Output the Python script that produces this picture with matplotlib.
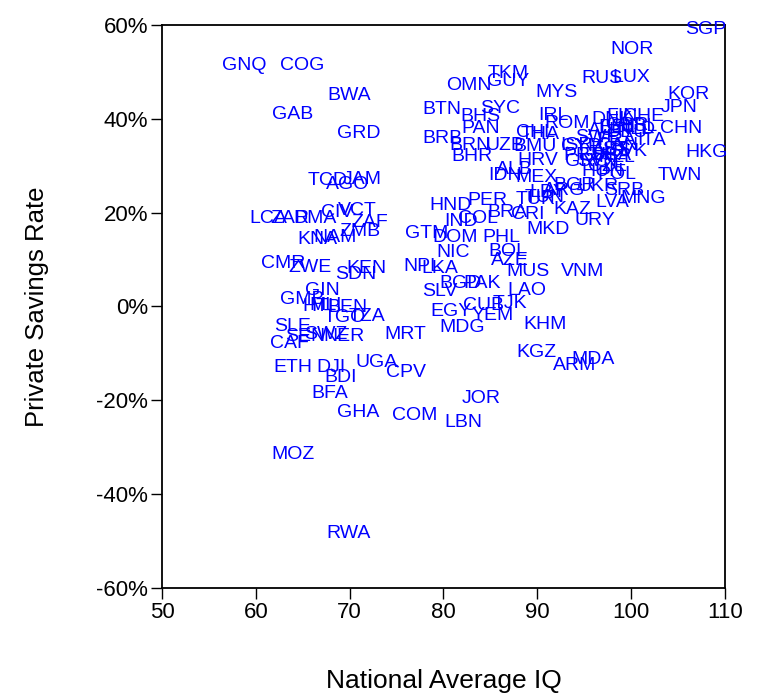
import matplotlib
matplotlib.use("Agg")
import matplotlib.pyplot as plt
from matplotlib.ticker import FuncFormatter

codes = ['SGP', 'NOR', 'RUS', 'LUX', 'KOR', 'JPN', 'CHN', 'HKG', 'TWN', 'FIN',
         'DNK', 'CHE', 'ITA', 'NLD', 'MNG', 'LVA', 'MYS', 'TKM', 'GUY', 'OMN',
         'BTN', 'SYC', 'BHS', 'PAN', 'BRB', 'BRN', 'UZB', 'BHR', 'BMU', 'CHL',
         'THA', 'HRV', 'PRT', 'ISR', 'IRL', 'ROM', 'IDN', 'MEX', 'HND', 'PER',
         'TUR', 'IND', 'COL', 'BRA', 'CRI', 'KAZ', 'URY', 'MKD', 'GTM', 'DOM',
         'PHL', 'NIC', 'BOL', 'AZE', 'NPL', 'LKA', 'MUS', 'VNM', 'BGD', 'PAK',
         'SLV', 'LAO', 'EGY', 'CUB', 'TJK', 'YEM', 'MDG', 'KHM', 'KGZ', 'ARM',
         'MDA', 'JOR', 'LBN', 'COM', 'CPV', 'UGA', 'GHA', 'BFA', 'BDI', 'DJI',
         'ETH', 'MOZ', 'RWA', 'CAF', 'SLE', 'SEN', 'SWZ', 'NER', 'MRT', 'TGO',
         'TZA', 'MLI', 'BEN', 'HTI', 'GMB', 'GIN', 'CMR', 'ZWE', 'SDN', 'KEN',
         'KNA', 'NAM', 'ZMB', 'LCA', 'ZAR', 'DMA', 'ZAF', 'CIV', 'VCT', 'TCD',
         'AGO', 'JAM', 'GRD', 'GAB', 'BWA', 'COG', 'GNQ',
         'ALB', 'ARG', 'BGR', 'UKR', 'SRB', 'LBY', 'TUN', 'SWE', 'AUT', 'BEL',
         'DEU', 'GBR', 'FRA', 'ESP', 'AUS', 'CAN', 'USA', 'NZL', 'SVN', 'CZE',
         'HUN', 'POL', 'EST', 'GRC', 'CYP', 'SVK', 'ISL']

iq = [108.0, 100.1, 96.9, 100.0, 106.1, 105.1, 105.3, 108.0, 105.2, 99.0,
      98.0, 101.3, 102.2, 100.5, 101.3, 98.0, 92.0, 86.9, 86.9, 82.7,
      79.8, 86.0, 83.9, 84.0, 79.9, 82.8, 86.6, 83.0, 89.8, 89.8,
      90.3, 90.1, 94.8, 94.2, 91.7, 93.2, 86.6, 89.9, 80.8, 84.7,
      89.8, 81.9, 83.7, 86.8, 89.0, 93.7, 96.1, 91.1, 78.2, 81.2,
      86.2, 81.0, 86.9, 87.1, 77.7, 79.6, 89.0, 94.8, 81.8, 84.1,
      79.6, 88.9, 80.8, 84.3, 87.1, 85.2, 82.0, 90.8, 89.9, 94.0,
      95.9, 84.0, 82.1, 76.9, 76.0, 72.9, 70.9, 67.9, 69.0, 68.0,
      64.0, 64.0, 69.9, 63.6, 63.9, 65.3, 67.4, 69.4, 75.9, 69.5,
      71.8, 67.4, 69.8, 66.6, 64.9, 67.1, 62.9, 65.8, 70.7, 71.8,
      66.6, 68.4, 71.1, 61.3, 63.6, 66.3, 72.1, 68.7, 70.8, 67.7,
      69.8, 71.3, 71.0, 63.9, 69.9, 64.9, 58.8,
      87.6, 92.9, 94.0, 96.5, 99.3, 91.1, 90.8, 96.4, 97.5, 98.5,
      99.6, 99.6, 98.5, 96.4, 97.9, 98.6, 97.9, 98.5, 96.4, 97.5,
      96.9, 98.5, 97.7, 95.3, 94.7, 99.6, 101.2]

savings = [59.1, 54.7, 48.7, 48.9, 45.1, 42.5, 38.0, 32.9, 28.0, 40.4,
           39.8, 40.4, 35.3, 37.8, 23.1, 22.1, 45.7, 49.6, 47.9, 47.0,
           41.9, 42.3, 40.4, 38.0, 35.9, 34.4, 34.4, 31.9, 34.0, 37.0,
           36.6, 31.2, 32.1, 34.4, 40.8, 39.1, 28.0, 27.6, 21.6, 22.5,
           22.7, 18.2, 18.7, 20.1, 19.7, 20.6, 18.4, 16.5, 15.5, 14.6,
           14.8, 11.6, 11.8, 9.9, 8.6, 8.2, 7.4, 7.4, 4.8, 5.0,
           3.1, 3.5, -1.0, 0.3, 0.7, -2.0, -4.4, -3.9, -9.7, -12.5,
           -11.4, -19.7, -24.8, -23.3, -14.0, -12.0, -22.7, -18.6, -15.2, -12.9,
           -12.9, -31.6, -48.3, -7.8, -4.2, -6.3, -5.9, -6.3, -5.9, -2.4,
           -2.2, 0.3, -0.3, -0.1, 1.4, 3.5, 9.1, 8.4, 6.9, 8.0,
           14.2, 14.6, 15.9, 18.7, 18.7, 18.7, 18.0, 20.1, 20.4, 26.8,
           25.9, 27.0, 36.8, 41.0, 44.9, 51.3, 51.3,
           29.1, 24.8, 25.7, 25.5, 24.8, 24.4, 23.3, 36.0, 37.5, 38.1,
           37.0, 38.5, 35.4, 32.2, 33.3, 34.3, 32.2, 31.8, 30.9, 29.8,
           28.7, 28.1, 33.5, 30.9, 34.0, 33.1, 38.3]

fam = ['Liberation Sans', 'DejaVu Sans']

fig = plt.figure(figsize=(7.63, 7.0), dpi=100)
ax = fig.add_axes([0.2123, 0.16, 0.7379, 0.8043])

for c, x, y in zip(codes, iq, savings):
    ax.text(x, y, c, color='#0000FF', fontsize=14, ha='center', va='center',
            family=fam, clip_on=False)

ax.set_xlim(50, 110)
ax.set_ylim(-60, 60)
ax.set_xticks(range(50, 111, 10))
ax.set_yticks(range(-60, 61, 20))
ax.yaxis.set_major_formatter(FuncFormatter(lambda v, p: f'{v:.0f}%'))

for s in ax.spines.values():
    s.set_linewidth(1.3)
ax.tick_params(direction='out', length=8, width=1.0, labelsize=16, pad=2)
for lab in ax.get_xticklabels() + ax.get_yticklabels():
    lab.set_family(fam)

ax.set_xlabel('National Average IQ', fontsize=19, labelpad=33, family=fam)
ax.set_ylabel('Private Savings Rate', fontsize=18.5, labelpad=34, family=fam)

fig.savefig('out.png', dpi=100)
